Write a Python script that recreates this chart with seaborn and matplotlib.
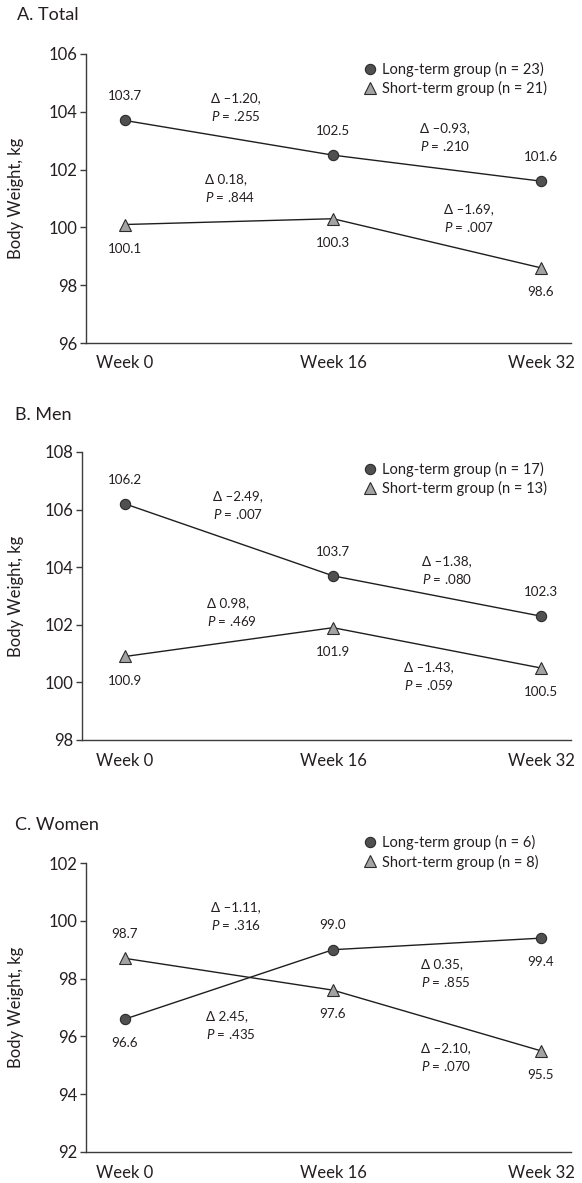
import matplotlib
matplotlib.use("Agg")

import matplotlib.pyplot as plt            # noqa: E402
import matplotlib.transforms as mtrans     # noqa: E402
import pandas as pd                        # noqa: E402
import seaborn as sns                      # noqa: E402
from matplotlib.lines import Line2D        # noqa: E402

sns.set_theme(style="white")
plt.rcParams["font.family"] = ["Lato", "DejaVu Sans"]
plt.rcParams["mathtext.fontset"] = "custom"
plt.rcParams["mathtext.rm"] = "Lato"
plt.rcParams["mathtext.it"] = "Lato:italic"

INK = "#231f20"
SPINE = "#3c3c3c"

# --------------------------------------------------------------------------- #
# Data
# --------------------------------------------------------------------------- #
WEEKS = ["Week 0", "Week 16", "Week 32"]
PANELS = ["A. Total", "B. Men", "C. Women"]

TOTAL_LONG = [103.7, 102.5, 101.6]
TOTAL_SHORT = [100.1, 100.3, 98.6]
MEN_LONG = [106.2, 103.7, 102.3]
MEN_SHORT = [100.9, 101.9, 100.5]
WOMEN_LONG = [96.6, 99.0, 99.4]
WOMEN_SHORT = [98.7, 97.6, 95.5]

N_LONG = [23, 17, 6]
N_SHORT = [21, 13, 8]

# change between consecutive weeks and P value (week 0->16, week 16->32)
TOTAL_LONG_DELTA, TOTAL_LONG_P = ["–1.20", "–0.93"], [".255", ".210"]
TOTAL_SHORT_DELTA, TOTAL_SHORT_P = ["0.18", "–1.69"], [".844", ".007"]
MEN_LONG_DELTA, MEN_LONG_P = ["–2.49", "–1.38"], [".007", ".080"]
MEN_SHORT_DELTA, MEN_SHORT_P = ["0.98", "–1.43"], [".469", ".059"]
WOMEN_LONG_DELTA, WOMEN_LONG_P = ["2.45", "0.35"], [".435", ".855"]
WOMEN_SHORT_DELTA, WOMEN_SHORT_P = ["–1.11", "–2.10"], [".316", ".070"]

Y_TICKS = [range(96, 107, 2), range(98, 109, 2), range(92, 103, 2)]

# --------------------------------------------------------------------------- #
# Layout (pixels of a 582 x 1183 canvas)
# --------------------------------------------------------------------------- #
W, H = 582, 1183
AX_PX = [(86, 54, 343), (82, 452, 740), (86, 863, 1152)]   # left, top, bottom
AX_RIGHT = 571
TITLE_PX = [(17, 15), (15, 415), (15, 825)]
LEGEND_TOP = [62, 462, 835]
X0_PX, STEP_PX = 125, 208

# label side per point: +1 above, -1 below
LONG_SIDE = [[1, 1, 1], [1, 1, 1], [-1, 1, -1]]
SHORT_SIDE = [[-1, -1, -1], [-1, -1, -1], [1, -1, -1]]
# annotation anchors (x in week index, y in kg), order matches the lists below
NOTE_POS = [
    [(0.413, 104.13), (1.418, 103.11), (0.385, 101.33), (1.534, 100.31)],
    [(0.423, 106.14), (1.428, 103.89), (0.394, 102.43), (1.341, 100.19)],
    [(0.389, 96.39), (1.423, 98.19), (0.413, 100.13), (1.423, 95.27)],
]

panels = [
    (TOTAL_LONG, TOTAL_SHORT,
     TOTAL_LONG_DELTA, TOTAL_LONG_P, TOTAL_SHORT_DELTA, TOTAL_SHORT_P),
    (MEN_LONG, MEN_SHORT,
     MEN_LONG_DELTA, MEN_LONG_P, MEN_SHORT_DELTA, MEN_SHORT_P),
    (WOMEN_LONG, WOMEN_SHORT,
     WOMEN_LONG_DELTA, WOMEN_LONG_P, WOMEN_SHORT_DELTA, WOMEN_SHORT_P),
]

STYLE = {
    "long": dict(marker="o", markersize=7.4, markerfacecolor="#505050"),
    "short": dict(marker="^", markersize=8.6, markerfacecolor="#a3a3a3"),
}

fig = plt.figure(figsize=(W / 100, H / 100), dpi=100)

for i, (long_w, short_w, ld, lp, sd, sp) in enumerate(panels):
    left, top, bottom = AX_PX[i]
    ax = fig.add_axes([left / W, 1 - bottom / H,
                       (AX_RIGHT - left) / W, (bottom - top) / H])

    df = pd.DataFrame({
        "pos": list(range(3)) * 2,
        "weight": long_w + short_w,
        "group": ["long"] * 3 + ["short"] * 3,
    })
    for g in ["long", "short"]:
        sns.lineplot(
            data=df[df.group == g], x="pos", y="weight", ax=ax,
            color="#1e1e1e", lw=1.0, markeredgecolor="#2b2b2b",
            markeredgewidth=0.8, legend=False, **STYLE[g],
        )

    # value labels
    for vals, sides in [(long_w, LONG_SIDE[i]), (short_w, SHORT_SIDE[i])]:
        for x, (v, s) in enumerate(zip(vals, sides)):
            ax.annotate(
                f"{v:.1f}", (x, v), xytext=(0, 17.5 * s),
                textcoords="offset points", ha="center", va="center",
                fontsize=9.6, color=INK,
            )

    # change annotations
    notes = [(ld[0], lp[0]), (ld[1], lp[1]), (sd[0], sp[0]), (sd[1], sp[1])]
    for (d, p), (nx, ny) in zip(notes, NOTE_POS[i]):
        ax.text(nx, ny, f"Δ {d},\n$P$ = {p}", ha="left", va="center",
                fontsize=9.6, color=INK, linespacing=1.4)

    ticks = list(Y_TICKS[i])
    ax.set_ylim(ticks[0], ticks[-1])
    ax.set_yticks(ticks)
    ax.set_xlim((left - X0_PX) / STEP_PX, (AX_RIGHT - X0_PX) / STEP_PX)
    ax.set_xticks(range(3), WEEKS)
    ax.set_xlabel("")
    ax.set_ylabel("Body Weight, kg", fontsize=12, color=INK)
    ax.yaxis.set_label_coords(
        24 / W, 0.5,
        transform=mtrans.blended_transform_factory(fig.transFigure, ax.transAxes),
    )

    sns.despine(ax=ax)
    for side in ["left", "bottom"]:
        ax.spines[side].set_color(SPINE)
        ax.spines[side].set_linewidth(1.0)
    ax.tick_params(axis="y", length=4.5, width=1.0, color=SPINE, pad=2,
                   labelsize=12, labelcolor=INK, left=True)
    ax.tick_params(axis="x", length=0, pad=9, labelsize=12, labelcolor=INK)

    handles = [
        Line2D([], [], ls="none", markeredgecolor="#2b2b2b",
               markeredgewidth=0.8, **STYLE["long"]),
        Line2D([], [], ls="none", markeredgecolor="#2b2b2b",
               markeredgewidth=0.8, **STYLE["short"]),
    ]
    labels = [f"Long-term group (n = {N_LONG[i]})",
              f"Short-term group (n = {N_SHORT[i]})"]
    leg = ax.legend(
        handles, labels, loc="upper left",
        bbox_to_anchor=(364 / W, 1 - LEGEND_TOP[i] / H),
        bbox_transform=fig.transFigure, frameon=False, fontsize=10.5,
        borderpad=0, borderaxespad=0, handlelength=0.8, handletextpad=0.45,
        labelspacing=0.3,
    )
    for t in leg.get_texts():
        t.set_color(INK)

    tx, ty = TITLE_PX[i]
    fig.text(tx / W, 1 - ty / H, PANELS[i], ha="left", va="center",
             fontsize=13, color=INK)

fig.savefig("out.png", dpi=100)
